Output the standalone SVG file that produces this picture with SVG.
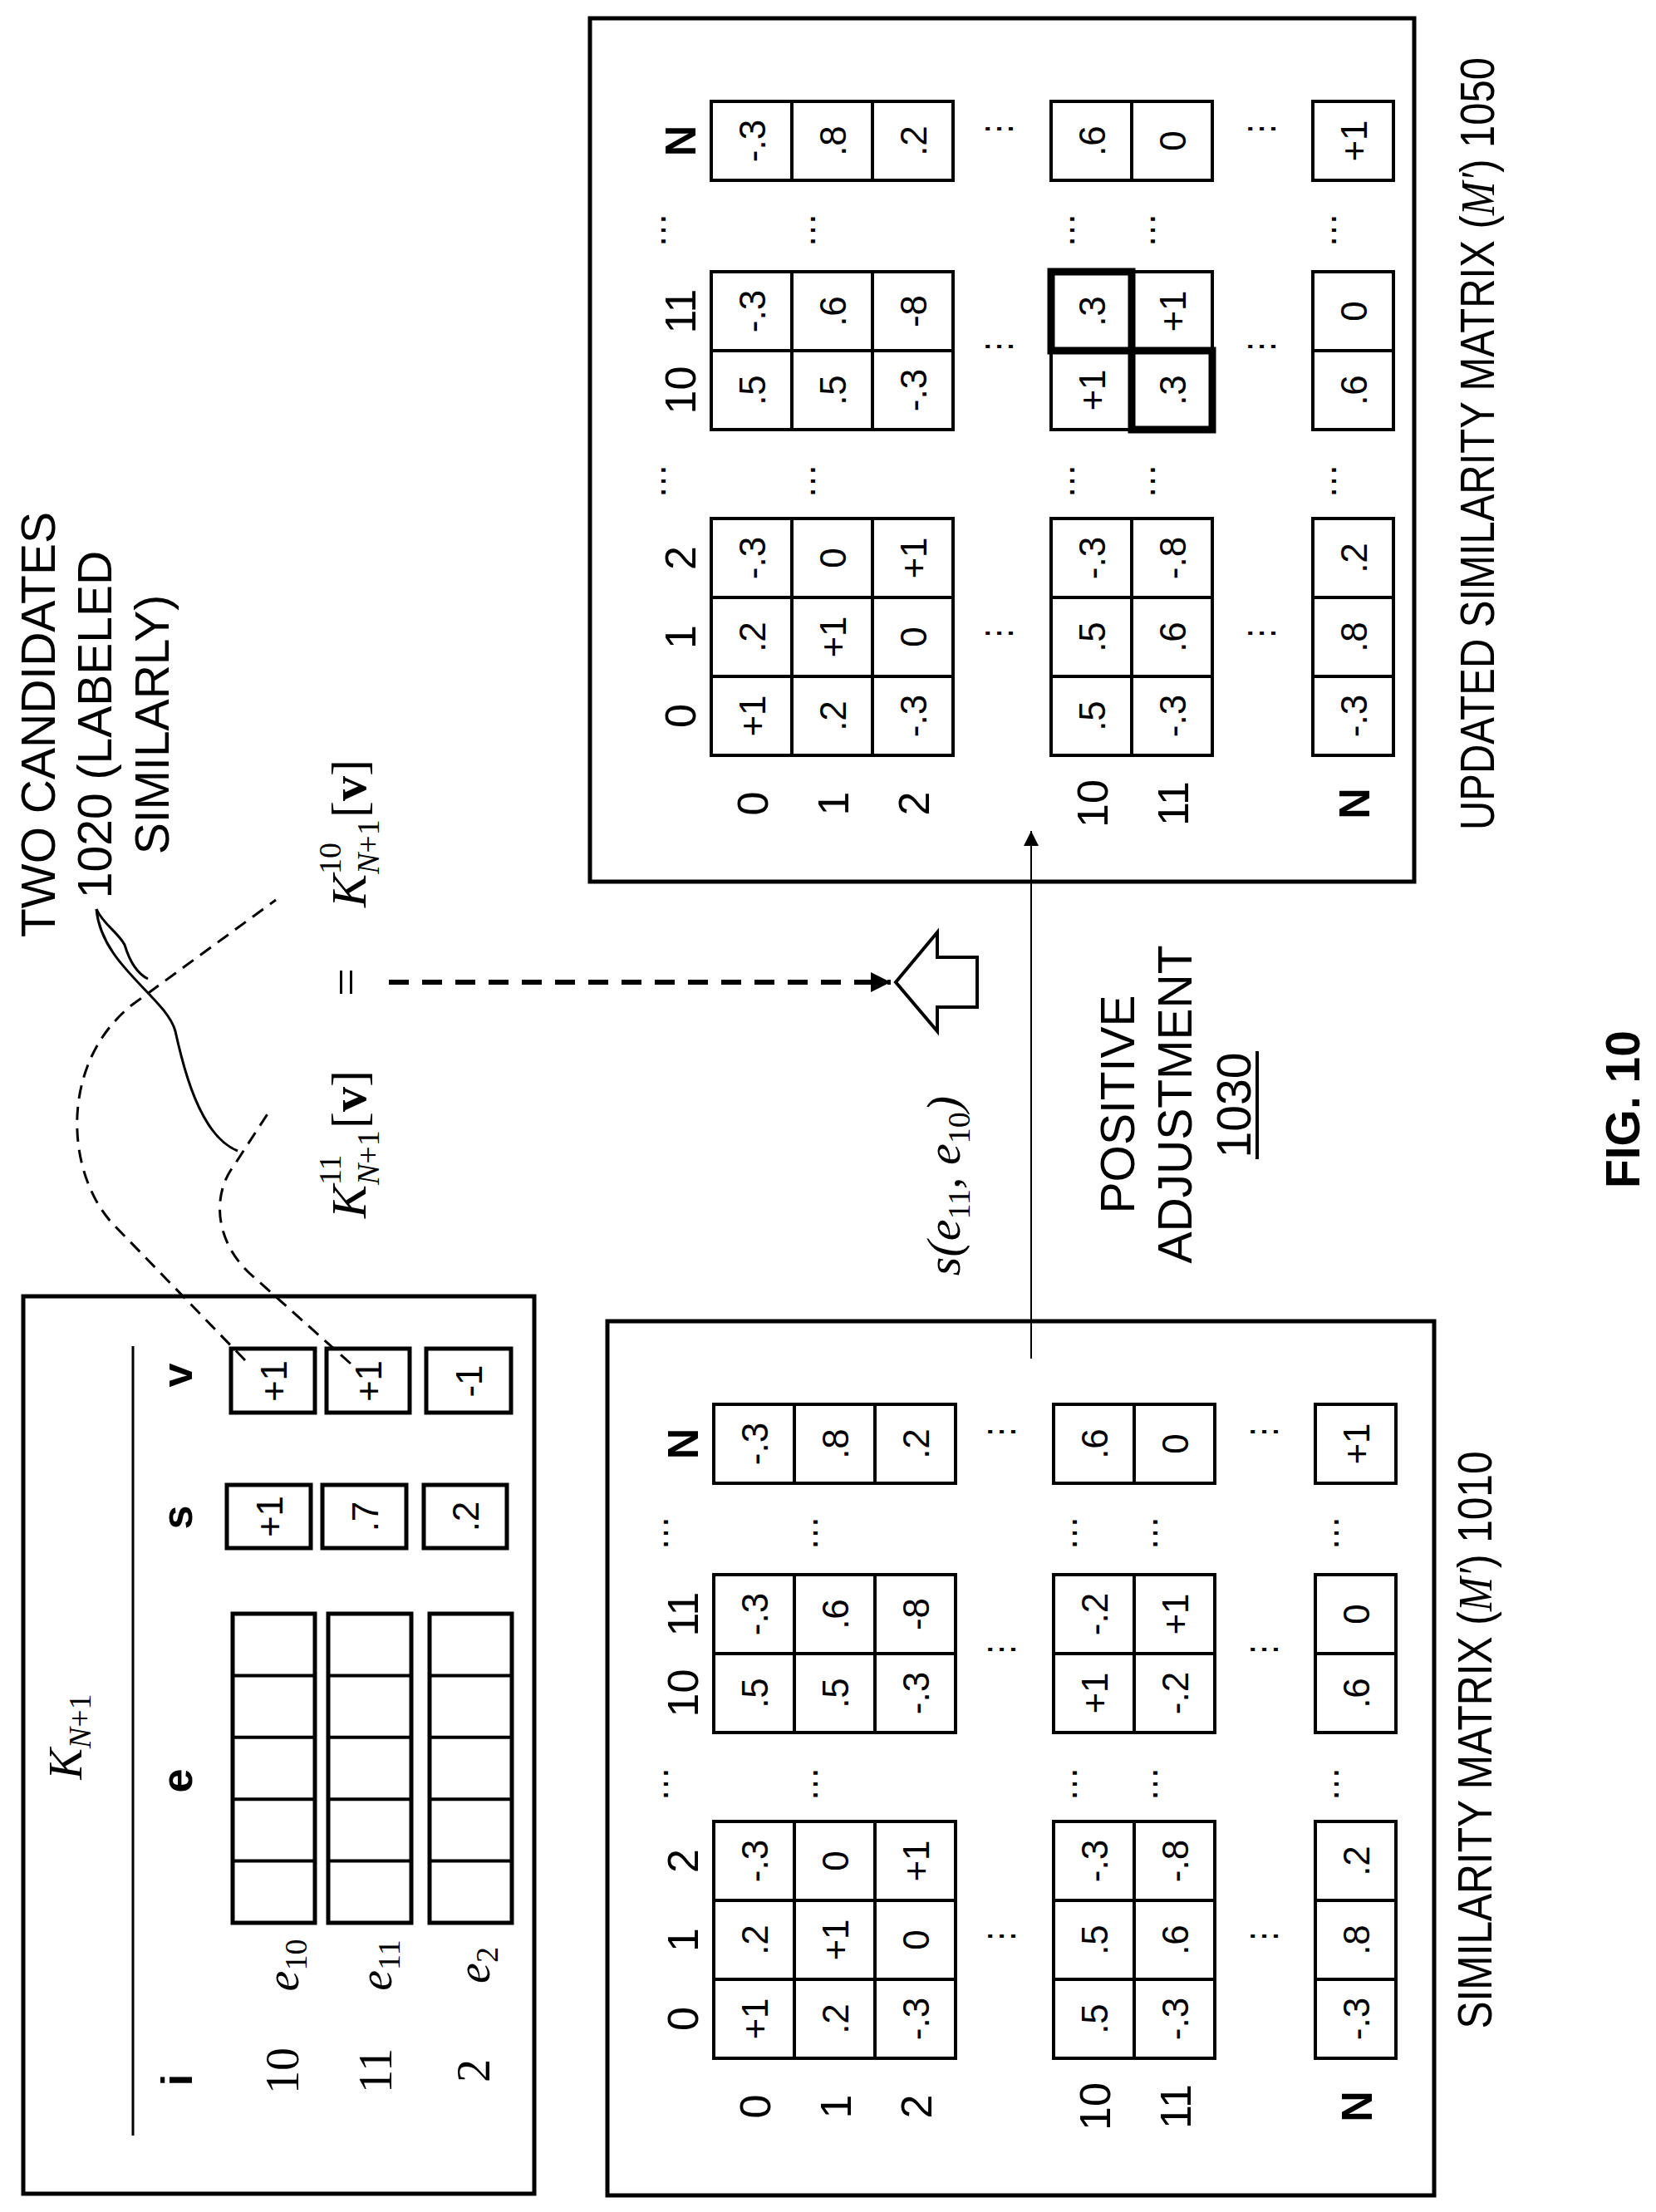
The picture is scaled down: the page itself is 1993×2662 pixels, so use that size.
<svg xmlns="http://www.w3.org/2000/svg" xmlns:xlink="http://www.w3.org/1999/xlink" width="1993" height="2662" viewBox="0 0 1993 2662">
<style>
.bx{fill:none;stroke:#000;stroke-width:5}
.cell{fill:none;stroke:#000;stroke-width:4}
.hl{fill:none;stroke:#000;stroke-width:9}
.t{font-family:"Liberation Sans",Arial,sans-serif;font-size:44px;text-anchor:middle;fill:#000}
.h{font-family:"Liberation Sans",Arial,sans-serif;font-size:52px;text-anchor:middle;fill:#000}
.b{font-weight:bold}
.d{font-family:"DejaVu Sans",sans-serif;font-size:40px;text-anchor:middle;fill:#000}
.dv{font-family:"DejaVu Sans",sans-serif;font-size:40px;text-anchor:middle;dominant-baseline:central;fill:#000}
.m{font-family:"Liberation Serif","Times New Roman",serif;font-style:italic;fill:#000}
.r{font-family:"Liberation Serif","Times New Roman",serif;fill:#000}
.lab{font-family:"Liberation Sans",Arial,sans-serif;font-size:57px;text-anchor:middle;fill:#000}
.dash{fill:none;stroke:#000;stroke-width:3;stroke-dasharray:16 10}
</style>
<defs>
<rect id="c" width="95" height="97" class="cell"/>
<marker id="ah" viewBox="0 0 10 10" refX="10" refY="5" markerWidth="24" markerHeight="18" markerUnits="userSpaceOnUse" orient="auto"><path d="M0,0L10,5L0,10z"/></marker>
<marker id="ahd" viewBox="0 0 10 10" refX="10" refY="5" markerWidth="26" markerHeight="24" markerUnits="userSpaceOnUse" orient="auto"><path d="M0,0L10,5L0,10z"/></marker>
</defs>
<g transform="translate(0,2662) rotate(-90)">

<g id="kn1">
<rect x="22" y="28" width="1080" height="615" class="bx"/>
<line x1="92" y1="160" x2="1042" y2="160" stroke="#000" stroke-width="3"/>
<text x="572" y="98" class="m" font-size="56" text-anchor="middle">K<tspan font-size="38" dy="11">N</tspan><tspan font-size="38" font-style="normal">+1</tspan></text>
<text x="159" y="231" class="h b" font-size="56">i</text>
<text x="519" y="231" class="h b" font-size="56">e</text>
<text x="836" y="231" class="h b" font-size="56">s</text>
<text x="1007" y="231" class="h b" font-size="56">v</text>
<text x="170" y="359" class="r" font-size="56" text-anchor="middle">10</text>
<text x="170" y="471" class="r" font-size="56" text-anchor="middle">11</text>
<text x="170" y="589" class="r" font-size="56" text-anchor="middle">2</text>
<text x="297" y="359" class="m" font-size="56" text-anchor="middle">e<tspan font-size="38" font-style="normal" dy="10">10</tspan></text>
<text x="297" y="471" class="m" font-size="56" text-anchor="middle">e<tspan font-size="38" font-style="normal" dy="10">11</tspan></text>
<text x="297" y="589" class="m" font-size="56" text-anchor="middle">e<tspan font-size="38" font-style="normal" dy="10">2</tspan></text>
<g fill="none" stroke="#000" stroke-width="5">
<rect x="348" y="280" width="372" height="99"/><rect x="348" y="395" width="372" height="100"/><rect x="348" y="517" width="372" height="99"/>
<path d="M422.4,280V379M496.8,280V379M571.2,280V379M645.6,280V379M422.4,395V495M496.8,395V495M571.2,395V495M645.6,395V495M422.4,517V616M496.8,517V616M571.2,517V616M645.6,517V616" stroke-width="4"/>
<rect x="799" y="273" width="76" height="101"/><rect x="799" y="388" width="76" height="101"/><rect x="799" y="510" width="76" height="100"/>
<rect x="962" y="278" width="77" height="101"/><rect x="962" y="393" width="77" height="100"/><rect x="962" y="513" width="77" height="102"/>
</g>
<text x="837" y="340" class="t">+1</text><text x="837" y="455" class="t">.7</text><text x="837" y="576" class="t">.2</text>
<text x="1000" y="345" class="t">+1</text><text x="1000" y="459" class="t">+1</text><text x="1000" y="580" class="t">-1</text>
</g>

<g id="candidates">
<text x="1790" y="66" class="lab" font-size="56">TWO CANDIDATES</text>
<text x="1790" y="134" class="lab" font-size="56">1020 (LABELED</text>
<text x="1790" y="203" class="lab" font-size="56">SIMILARLY)</text>
</g>

<g id="eqn">
<text x="1196" y="440" class="m" font-size="60">K</text>
<text x="1236" y="410" class="r" font-size="38">11</text>
<text x="1236" y="456" class="m" font-size="38">N<tspan font-style="normal">+1</tspan></text>
<text x="1304" y="440" class="r" font-size="60">[<tspan font-weight="bold">v</tspan>]</text>
<text x="1480" y="436" class="r" font-size="60" text-anchor="middle">=</text>
<text x="1570" y="440" class="m" font-size="60">K</text>
<text x="1610" y="410" class="r" font-size="38">10</text>
<text x="1610" y="456" class="m" font-size="38">N<tspan font-style="normal">+1</tspan></text>
<text x="1678" y="440" class="r" font-size="60">[<tspan font-weight="bold">v</tspan>]</text>
<text x="1235" y="1155" class="m" font-size="58" text-anchor="middle">s(e<tspan font-size="38" font-style="normal" dy="12">11</tspan><tspan dy="-12">, e</tspan><tspan font-size="38" font-style="normal" dy="12">10</tspan><tspan dy="-12">)</tspan></text>
</g>

<g id="blockarrow">
<polygon points="1480,1078 1540,1128 1510,1128 1510,1176 1450,1176 1450,1128 1421,1128" fill="#fff" stroke="#000" stroke-width="4"/>
</g>

<g id="adjust">
<text x="1333" y="1365" class="lab">POSITIVE</text>
<text x="1333" y="1434" class="lab">ADJUSTMENT</text>
<text x="1332" y="1505" class="lab">1030</text>
<line x1="1267" y1="1513" x2="1397" y2="1513" stroke="#000" stroke-width="4"/>
</g>

<g id="fig">
<text x="1327" y="1973" class="lab b" font-size="84">FIG. 10</text>
</g>

<g id="connectors">
<path class="dash" d="M1025,295 L1190,135 C1250,80 1380,70 1452,158 L1579,332"/>
<path class="dash" d="M1021,422 L1130,300 C1170,258 1225,255 1260,282 L1323,323"/>
<path d="M1568,116 C1550,124 1540,142 1525,150 C1505,156 1490,166 1484,178" fill="none" stroke="#000" stroke-width="3"/>
<path d="M1568,116 C1500,122 1462,200 1421,211 C1380,220 1295,240 1277,286" fill="none" stroke="#000" stroke-width="3"/>
<line x1="1480" y1="468" x2="1480" y2="1072" stroke="#000" stroke-width="6" stroke-dasharray="24 16" marker-end="url(#ahd)"/>
<line x1="1027" y1="1241" x2="1662" y2="1241" stroke="#000" stroke-width="2" marker-end="url(#ah)"/>
</g>

<g id="matrix1010">
<rect x="20" y="731" width="1052" height="995" class="bx"/>
<use href="#c" x="185" y="859"/><use href="#c" x="280" y="859"/><use href="#c" x="375" y="859"/><use href="#c" x="577" y="859"/><use href="#c" x="672" y="859"/><use href="#c" x="877" y="859"/>
<use href="#c" x="185" y="956"/><use href="#c" x="280" y="956"/><use href="#c" x="375" y="956"/><use href="#c" x="577" y="956"/><use href="#c" x="672" y="956"/><use href="#c" x="877" y="956"/>
<use href="#c" x="185" y="1053"/><use href="#c" x="280" y="1053"/><use href="#c" x="375" y="1053"/><use href="#c" x="577" y="1053"/><use href="#c" x="672" y="1053"/><use href="#c" x="877" y="1053"/>
<use href="#c" x="185" y="1268"/><use href="#c" x="280" y="1268"/><use href="#c" x="375" y="1268"/><use href="#c" x="577" y="1268"/><use href="#c" x="672" y="1268"/><use href="#c" x="877" y="1268"/>
<use href="#c" x="185" y="1365"/><use href="#c" x="280" y="1365"/><use href="#c" x="375" y="1365"/><use href="#c" x="577" y="1365"/><use href="#c" x="672" y="1365"/><use href="#c" x="877" y="1365"/>
<use href="#c" x="185" y="1583"/><use href="#c" x="280" y="1583"/><use href="#c" x="375" y="1583"/><use href="#c" x="577" y="1583"/><use href="#c" x="672" y="1583"/><use href="#c" x="877" y="1583"/>
<text x="232.5" y="923.5" class="t">+1</text><text x="327.5" y="923.5" class="t">.2</text><text x="422.5" y="923.5" class="t">-.3</text><text x="624.5" y="923.5" class="t">.5</text><text x="719.5" y="923.5" class="t">-.3</text><text x="924.5" y="923.5" class="t">-.3</text>
<text x="232.5" y="1020.5" class="t">.2</text><text x="327.5" y="1020.5" class="t">+1</text><text x="422.5" y="1020.5" class="t">0</text><text x="624.5" y="1020.5" class="t">.5</text><text x="719.5" y="1020.5" class="t">.6</text><text x="924.5" y="1020.5" class="t">.8</text>
<text x="232.5" y="1117.5" class="t">-.3</text><text x="327.5" y="1117.5" class="t">0</text><text x="422.5" y="1117.5" class="t">+1</text><text x="624.5" y="1117.5" class="t">-.3</text><text x="719.5" y="1117.5" class="t">-8</text><text x="924.5" y="1117.5" class="t">.2</text>
<text x="232.5" y="1332.5" class="t">.5</text><text x="327.5" y="1332.5" class="t">.5</text><text x="422.5" y="1332.5" class="t">-.3</text><text x="624.5" y="1332.5" class="t">+1</text><text x="719.5" y="1332.5" class="t">-.2</text><text x="924.5" y="1332.5" class="t">.6</text>
<text x="232.5" y="1429.5" class="t">-.3</text><text x="327.5" y="1429.5" class="t">.6</text><text x="422.5" y="1429.5" class="t">-.8</text><text x="624.5" y="1429.5" class="t">-.2</text><text x="719.5" y="1429.5" class="t">+1</text><text x="924.5" y="1429.5" class="t">0</text>
<text x="232.5" y="1647.5" class="t">-.3</text><text x="327.5" y="1647.5" class="t">.8</text><text x="422.5" y="1647.5" class="t">.2</text><text x="624.5" y="1647.5" class="t">.6</text><text x="719.5" y="1647.5" class="t">0</text><text x="924.5" y="1647.5" class="t">+1</text>
<text x="232.5" y="840" class="h">0</text><text x="327.5" y="840" class="h">1</text><text x="422.5" y="840" class="h">2</text><text x="624.5" y="840" class="h">10</text><text x="719.5" y="840" class="h">11</text><text x="924.5" y="840" class="h b">N</text>
<text x="127" y="926.5" class="h">0</text><text x="127" y="1023.5" class="h">1</text><text x="127" y="1120.5" class="h">2</text><text x="127" y="1335.5" class="h">10</text><text x="127" y="1432.5" class="h">11</text><text x="127" y="1650.5" class="h b">N</text>
<text x="515" y="804" class="d">…</text><text x="817" y="804" class="d">…</text>
<text x="515" y="984" class="d">…</text><text x="817" y="984" class="d">…</text>
<text x="515" y="1296" class="d">…</text><text x="817" y="1296" class="d">…</text>
<text x="515" y="1393" class="d">…</text><text x="817" y="1393" class="d">…</text>
<text x="515" y="1611" class="d">…</text><text x="817" y="1611" class="d">…</text>
<text x="332" y="1204" class="dv">⋮</text><text x="677" y="1204" class="dv">⋮</text><text x="939" y="1204" class="dv">⋮</text>
<text x="332" y="1520" class="dv">⋮</text><text x="677" y="1520" class="dv">⋮</text><text x="939" y="1520" class="dv">⋮</text>
<text x="568" y="1795" class="lab" font-size="50" textLength="695" lengthAdjust="spacingAndGlyphs">SIMILARITY MATRIX (<tspan class="m">M′</tspan>) 1010</text>
</g>

<g id="matrix1050">
<rect x="1601" y="710" width="1039" height="992" class="bx"/>
<use href="#c" x="1753" y="856"/><use href="#c" x="1848" y="856"/><use href="#c" x="1943" y="856"/><use href="#c" x="2145" y="856"/><use href="#c" x="2240" y="856"/><use href="#c" x="2445" y="856"/>
<use href="#c" x="1753" y="953"/><use href="#c" x="1848" y="953"/><use href="#c" x="1943" y="953"/><use href="#c" x="2145" y="953"/><use href="#c" x="2240" y="953"/><use href="#c" x="2445" y="953"/>
<use href="#c" x="1753" y="1050"/><use href="#c" x="1848" y="1050"/><use href="#c" x="1943" y="1050"/><use href="#c" x="2145" y="1050"/><use href="#c" x="2240" y="1050"/><use href="#c" x="2445" y="1050"/>
<use href="#c" x="1753" y="1265"/><use href="#c" x="1848" y="1265"/><use href="#c" x="1943" y="1265"/><use href="#c" x="2145" y="1265"/><use href="#c" x="2240" y="1265"/><use href="#c" x="2445" y="1265"/>
<use href="#c" x="1753" y="1362"/><use href="#c" x="1848" y="1362"/><use href="#c" x="1943" y="1362"/><use href="#c" x="2145" y="1362"/><use href="#c" x="2240" y="1362"/><use href="#c" x="2445" y="1362"/>
<use href="#c" x="1753" y="1580"/><use href="#c" x="1848" y="1580"/><use href="#c" x="1943" y="1580"/><use href="#c" x="2145" y="1580"/><use href="#c" x="2240" y="1580"/><use href="#c" x="2445" y="1580"/>
<rect x="2240" y="1265" width="95" height="97" class="hl"/>
<rect x="2145" y="1362" width="95" height="97" class="hl"/>
<text x="1800.5" y="920.5" class="t">+1</text><text x="1895.5" y="920.5" class="t">.2</text><text x="1990.5" y="920.5" class="t">-.3</text><text x="2192.5" y="920.5" class="t">.5</text><text x="2287.5" y="920.5" class="t">-.3</text><text x="2492.5" y="920.5" class="t">-.3</text>
<text x="1800.5" y="1017.5" class="t">.2</text><text x="1895.5" y="1017.5" class="t">+1</text><text x="1990.5" y="1017.5" class="t">0</text><text x="2192.5" y="1017.5" class="t">.5</text><text x="2287.5" y="1017.5" class="t">.6</text><text x="2492.5" y="1017.5" class="t">.8</text>
<text x="1800.5" y="1114.5" class="t">-.3</text><text x="1895.5" y="1114.5" class="t">0</text><text x="1990.5" y="1114.5" class="t">+1</text><text x="2192.5" y="1114.5" class="t">-.3</text><text x="2287.5" y="1114.5" class="t">-8</text><text x="2492.5" y="1114.5" class="t">.2</text>
<text x="1800.5" y="1329.5" class="t">.5</text><text x="1895.5" y="1329.5" class="t">.5</text><text x="1990.5" y="1329.5" class="t">-.3</text><text x="2192.5" y="1329.5" class="t">+1</text><text x="2287.5" y="1329.5" class="t">.3</text><text x="2492.5" y="1329.5" class="t">.6</text>
<text x="1800.5" y="1426.5" class="t">-.3</text><text x="1895.5" y="1426.5" class="t">.6</text><text x="1990.5" y="1426.5" class="t">-.8</text><text x="2192.5" y="1426.5" class="t">.3</text><text x="2287.5" y="1426.5" class="t">+1</text><text x="2492.5" y="1426.5" class="t">0</text>
<text x="1800.5" y="1644.5" class="t">-.3</text><text x="1895.5" y="1644.5" class="t">.8</text><text x="1990.5" y="1644.5" class="t">.2</text><text x="2192.5" y="1644.5" class="t">.6</text><text x="2287.5" y="1644.5" class="t">0</text><text x="2492.5" y="1644.5" class="t">+1</text>
<text x="1800.5" y="837" class="h">0</text><text x="1895.5" y="837" class="h">1</text><text x="1990.5" y="837" class="h">2</text><text x="2192.5" y="837" class="h">10</text><text x="2287.5" y="837" class="h">11</text><text x="2492.5" y="837" class="h b">N</text>
<text x="1695" y="923.5" class="h">0</text><text x="1695" y="1020.5" class="h">1</text><text x="1695" y="1117.5" class="h">2</text><text x="1695" y="1332.5" class="h">10</text><text x="1695" y="1429.5" class="h">11</text><text x="1695" y="1647.5" class="h b">N</text>
<text x="2083" y="801" class="d">…</text><text x="2385" y="801" class="d">…</text>
<text x="2083" y="981" class="d">…</text><text x="2385" y="981" class="d">…</text>
<text x="2083" y="1293" class="d">…</text><text x="2385" y="1293" class="d">…</text>
<text x="2083" y="1390" class="d">…</text><text x="2385" y="1390" class="d">…</text>
<text x="2083" y="1608" class="d">…</text><text x="2385" y="1608" class="d">…</text>
<text x="1900" y="1201" class="dv">⋮</text><text x="2245" y="1201" class="dv">⋮</text><text x="2507" y="1201" class="dv">⋮</text>
<text x="1900" y="1517" class="dv">⋮</text><text x="2245" y="1517" class="dv">⋮</text><text x="2507" y="1517" class="dv">⋮</text>
<text x="2128" y="1798" class="lab" font-size="50" textLength="930" lengthAdjust="spacingAndGlyphs">UPDATED SIMILARITY MATRIX (<tspan class="m">M′</tspan>) 1050</text>
</g>
</g>
</svg>
